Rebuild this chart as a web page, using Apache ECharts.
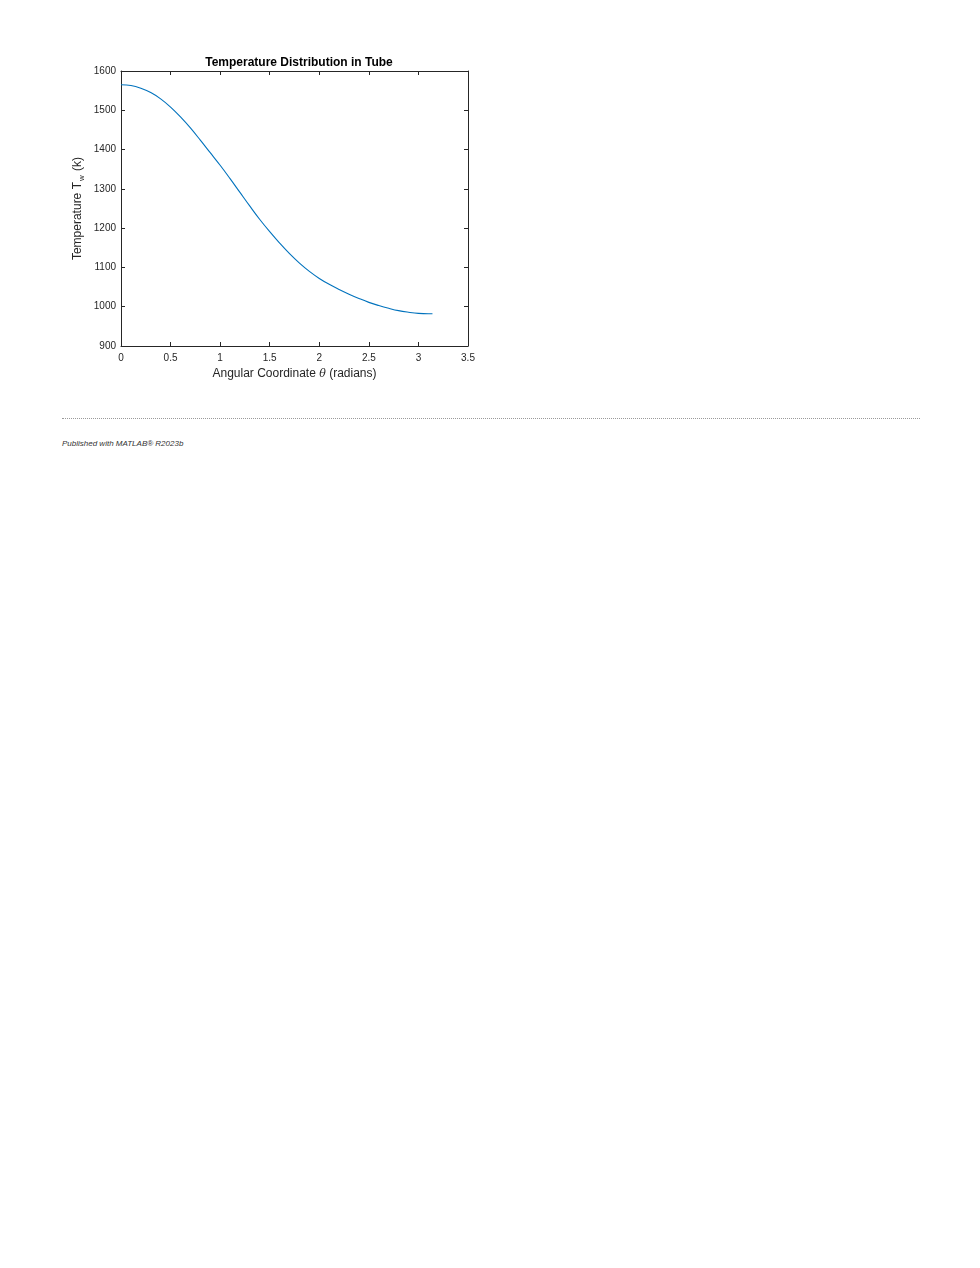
<!DOCTYPE html>
<html>
<head>
<meta charset="utf-8">
<title>Temperature Distribution in Tube</title>
<script src="https://cdn.jsdelivr.net/npm/echarts@6/dist/echarts.min.js"></script>
<style>
  html, body { margin: 0; padding: 0; background: #fff; }
  body { width: 980px; height: 1268px; position: relative; font-family: "Liberation Sans", Arial, sans-serif; }
  #chart { position: absolute; left: 0; top: 0; width: 980px; height: 400px; }
  .divider { position: absolute; left: 62px; top: 418px; width: 858px; border-top: 1px dotted #9a9a9a; }
  .footer { position: absolute; left: 62px; top: 439px; font-size: 8px; font-style: italic; color: #333; }
</style>
</head>
<body>
<div id="chart"></div>
<div class="divider"></div>
<div class="footer">Published with MATLAB® R2023b</div>
<script>
/* global echarts */

// angular coordinate (radians) and wall temperature (K)
const theta = [
  0, 0.1, 0.2, 0.3, 0.4, 0.5, 0.6, 0.7, 0.8, 0.9,
  1.0, 1.1, 1.2, 1.3, 1.4, 1.5, 1.6, 1.7, 1.8, 1.9,
  2.0, 2.1, 2.2, 2.3, 2.4, 2.5, 2.6, 2.7, 2.8, 2.9,
  3.0, 3.1, 3.1416,
];
const tempW = [
  1565, 1563, 1556, 1545, 1529, 1508, 1483, 1455, 1424, 1392,
  1360, 1326, 1291, 1256, 1222, 1191, 1162, 1135, 1111, 1090,
  1072, 1057, 1044, 1032, 1021, 1011, 1003, 996, 990, 986,
  983, 982, 982,
];

const xTicks = [0, 0.5, 1, 1.5, 2, 2.5, 3, 3.5];
const yTicks = [900, 1000, 1100, 1200, 1300, 1400, 1500, 1600];

const AXIS_COLOR = "#262626";
const LINE_COLOR = "#0072BD";
const FONT = "'Liberation Sans', Arial, sans-serif";

const chart = echarts.init(document.getElementById("chart"), null, { renderer: "canvas" });

const plainAxis = {
  axisLine: { show: true, onZero: false, lineStyle: { color: AXIS_COLOR, width: 1 } },
  axisTick: { show: true, inside: true, length: 4, lineStyle: { color: AXIS_COLOR } },
  splitLine: { show: false },
};

chart.setOption({
  animation: false,
  title: {
    text: "Temperature Distribution in Tube",
    left: 294,
    textAlign: "center",
    top: 52,
    textStyle: { fontFamily: FONT, fontSize: 12, fontWeight: "bold", color: "#000" },
  },
  grid: { left: 121, top: 71, width: 347, height: 275 },
  xAxis: [
    {
      ...plainAxis,
      type: "value",
      position: "bottom",
      min: xTicks[0],
      max: xTicks[xTicks.length - 1],
      interval: 0.5,
      axisLabel: {
        color: AXIS_COLOR, fontFamily: FONT, fontSize: 10, margin: 7,
        formatter: (v) => String(v),
      },
      name: "Angular Coordinate {it|θ} (radians)",
      nameLocation: "middle",
      nameGap: 22,
      nameTextStyle: {
        color: AXIS_COLOR,
        fontFamily: FONT,
        fontSize: 12,
        rich: {
          it: { fontFamily: "'DejaVu Serif', serif", fontStyle: "italic", fontSize: 11, color: AXIS_COLOR },
        },
      },
    },
    {
      ...plainAxis,
      type: "value",
      position: "top",
      min: xTicks[0],
      max: xTicks[xTicks.length - 1],
      interval: 0.5,
      axisLabel: { show: false },
    },
  ],
  yAxis: [
    {
      ...plainAxis,
      type: "value",
      position: "left",
      min: yTicks[0],
      max: yTicks[yTicks.length - 1],
      interval: 100,
      axisLabel: {
        color: AXIS_COLOR, fontFamily: FONT, fontSize: 10, margin: 5,
        formatter: (v) => String(v),
      },
      name: "Temperature T{sub|w} (k)",
      nameLocation: "middle",
      nameGap: 35,
      nameTextStyle: {
        color: AXIS_COLOR,
        fontFamily: FONT,
        fontSize: 12,
        rich: {
          sub: { fontFamily: FONT, fontSize: 8, color: AXIS_COLOR, padding: [9, 1, 0, 1] },
        },
      },
    },
    {
      ...plainAxis,
      type: "value",
      position: "right",
      min: yTicks[0],
      max: yTicks[yTicks.length - 1],
      interval: 100,
      axisLabel: { show: false },
    },
  ],
  series: [
    {
      type: "line",
      data: theta.map((t, i) => [t, tempW[i]]),
      showSymbol: false,
      smooth: 0.4,
      lineStyle: { color: LINE_COLOR, width: 1.1 },
      itemStyle: { color: LINE_COLOR },
    },
  ],
});
</script>
</body>
</html>
